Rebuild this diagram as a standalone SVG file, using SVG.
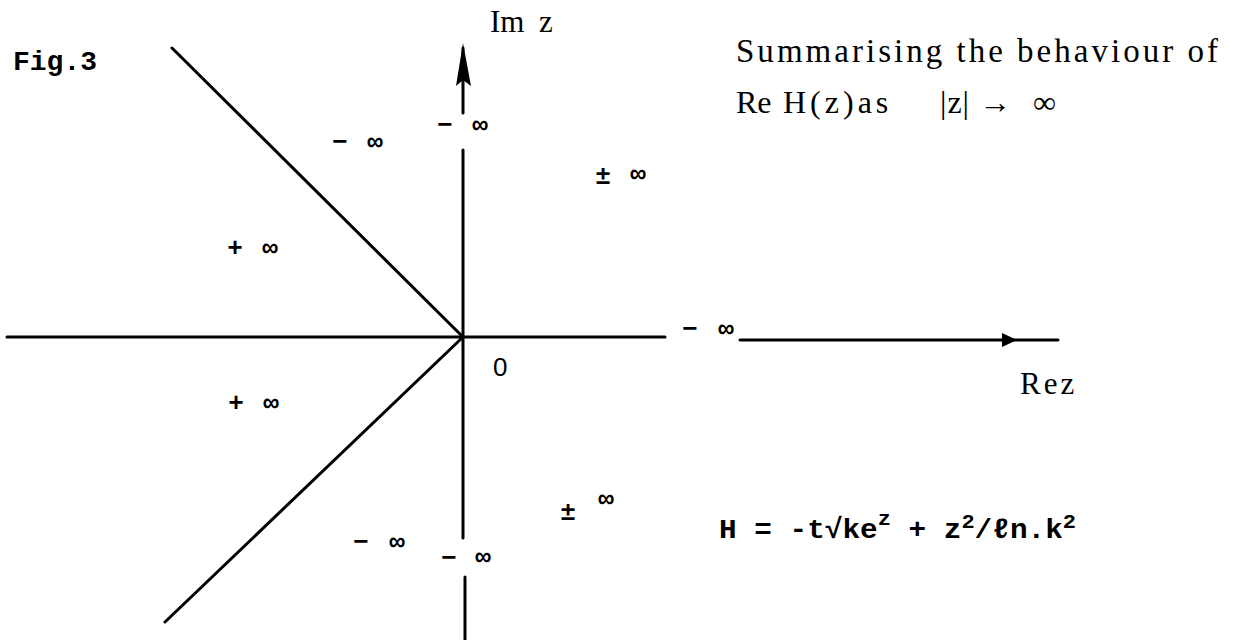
<svg xmlns="http://www.w3.org/2000/svg" width="1242" height="640" viewBox="0 0 1242 640">
<style>
.ax{stroke:#000;stroke-width:3;fill:none;stroke-linecap:round}
.tw{font-family:"Liberation Mono",monospace;font-weight:bold;fill:#000}
.lb{font-family:"Liberation Mono",monospace;font-weight:bold;font-size:26px;fill:#000;text-anchor:middle;dominant-baseline:central}
.sr{font-family:"Liberation Serif",serif;fill:#000}
</style>
<rect width="1242" height="640" fill="#fff"/>
<g id="connectors">
<path class="ax" d="M7 337 L665 337"/>
<path class="ax" d="M740 340 L1058 340"/>
<path d="M1002 333 L1017 340 L1002 347 Z" fill="#000"/>
<path class="ax" d="M463 48 L463 113"/>
<path class="ax" d="M463 150 L463 538"/>
<path class="ax" d="M465 577 L465 640"/>
<path d="M463 43 L456 86 L463 80 L471 86 Z" fill="#000"/>
<path class="ax" d="M172 48 L463 337"/>
<path class="ax" d="M463 337 L165 622"/>
</g>
<g id="fig-label"><text class="tw" x="13" y="70" font-size="28">Fig.3</text></g>
<g id="im-label"><text class="sr" font-size="31" y="32"><tspan x="490">Im</tspan><tspan x="539">z</tspan></text></g>
<g id="caption">
<text class="sr" font-size="33" x="736" y="62" textLength="482" lengthAdjust="spacing">Summarising the behaviour of</text>
<text class="sr" font-size="32" y="113"><tspan x="736">Re</tspan><tspan x="783" letter-spacing="4">H(z)as</tspan><tspan x="940" letter-spacing="1">|z|</tspan><tspan x="979">→</tspan><tspan x="1033">∞</tspan></text>
</g>
<g id="re-label"><text class="sr" font-size="31" x="1020" y="394" letter-spacing="3">Rez</text></g>
<g id="origin"><text x="493" y="376" font-family="Liberation Sans, sans-serif" font-size="26">0</text></g>
<g id="regions">
<text class="lb" x="445" y="126">−</text><text class="lb" x="480" y="126">∞</text>
<text class="lb" x="340" y="143">−</text><text class="lb" x="375" y="143">∞</text>
<text class="lb" x="603" y="177">±</text><text class="lb" x="638" y="175">∞</text>
<text class="lb" x="235" y="249">+</text><text class="lb" x="270" y="249">∞</text>
<text class="lb" x="690" y="330">−</text><text class="lb" x="726" y="330">∞</text>
<text class="lb" x="236" y="404">+</text><text class="lb" x="271" y="404">∞</text>
<text class="lb" x="568" y="513">±</text><text class="lb" x="606" y="500">∞</text>
<text class="lb" x="361" y="543">−</text><text class="lb" x="397" y="543">∞</text>
<text class="lb" x="449" y="559">−</text><text class="lb" x="483" y="558">∞</text>
</g>
<g id="formula">
<text class="tw" font-size="28" x="719" y="538" textLength="357" lengthAdjust="spacingAndGlyphs">H = -t√ke<tspan dy="-13" font-size="21">z</tspan><tspan dy="13"> + z</tspan><tspan dy="-10" font-size="21">2</tspan><tspan dy="10">/ℓn.k</tspan><tspan dy="-10" font-size="21">2</tspan></text>
</g>
</svg>
